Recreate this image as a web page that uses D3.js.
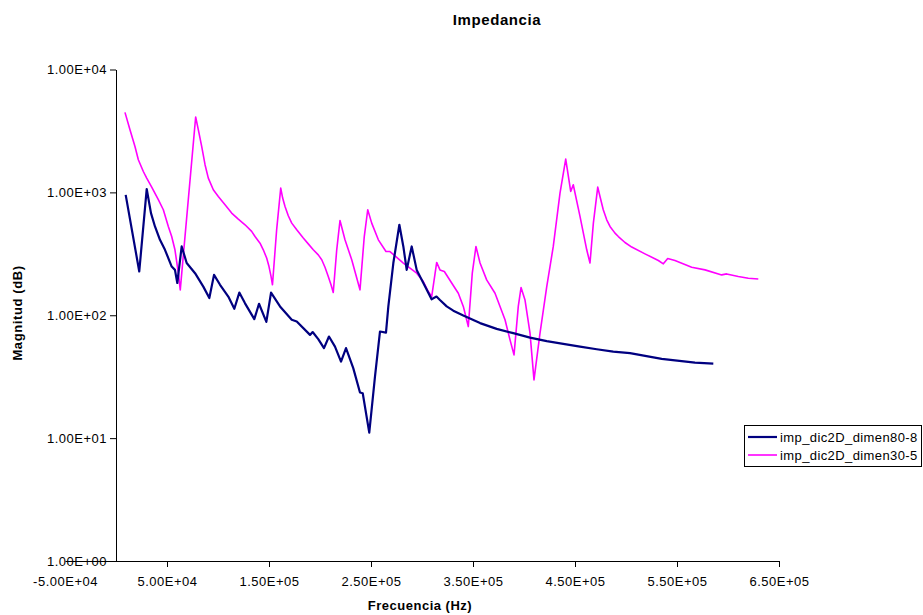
<!DOCTYPE html>
<html>
<head>
<meta charset="utf-8">
<script src="https://cdn.jsdelivr.net/npm/d3@7"></script>
<style>
  body { margin: 0; background: #fff; }
  svg { font-family: "Liberation Sans", Arial, sans-serif; }
</style>
</head>
<body>
<svg width="923" height="615"></svg>
<script>
// Data (frequency in Hz, magnitude)
var freq80 = [9500, 22800, 30100, 34300, 38200, 43100, 48000, 54600, 57800, 60100, 64400, 69300, 77500, 85600, 91500,
  96100, 102000, 110100, 116000, 120900, 126500, 135600, 140200, 147400, 152000, 160800, 172300,
  177200, 190200, 192800, 198300, 203900, 208800, 214700, 220600, 225500, 232600, 239200, 241900,
  248300, 253900, 258800, 264700, 267000, 271900, 277800, 281700, 285000, 289900, 294800, 301300,
  309400, 314200, 317600, 324200, 330700, 340500, 356900, 373200, 389500, 405900, 422300, 438500, 454900, 471300,
  487500, 503900, 535000, 567600, 585600];
var mag80 = [955, 227, 1064, 678, 528, 411, 341, 249, 234, 183, 363, 266, 220, 171, 138,
  213, 177, 142, 113, 153, 125, 93, 124, 88.3, 153, 118, 91.8,
  88.9, 69.2, 73, 63.9, 54.0, 67.1, 55.6, 42.0, 54.0, 37.1, 23.5, 23.2,
  11.1, 31.7, 73.7, 72.3, 118, 266, 545, 363, 234, 363, 234, 183,
  135, 142, 133, 118, 109, 99.5, 86.3, 77.5, 71.5, 65.8, 61.5, 58.5, 55.6, 52.9,
  50.6, 49.1, 44.2, 41.2, 40.4];

var freq30 = [8800, 13700, 18600, 21900, 26800, 30100, 35000, 41500, 46400, 51300, 54600, 57800, 61100, 63000,
  78100, 80700, 84000, 87300, 90500, 95400, 100300, 106900, 113400, 119900, 126500, 133000, 136300,
  141200, 144400, 147700, 150000, 152000, 153400, 157500, 161500, 163400, 165700, 168900, 172300,
  177200, 183600, 188500, 193400, 198300, 201700, 204900, 208100, 210800, 213000,
  216400, 219600, 224500, 231100, 239200, 243400, 246800, 250700, 257200,
  264700, 268600, 281700, 294800, 301300, 306200, 309500, 314400, 317600, 321900, 329100, 335600,
  340500, 345400, 349300, 352900, 356900, 363400, 371600, 381400, 386300, 390200, 394400, 397100,
  401000, 405900, 409800, 415700, 422300, 428700, 435300, 440900, 445800, 448300, 454900, 461500,
  464700, 468000, 472300, 474500, 477700, 481100, 484300, 489200, 492500, 499000, 505600, 518600,
  531700, 536600, 540900, 548000, 564400, 577500, 593800, 598700, 610100, 619900, 629700];
var mag30 = [4477, 3236, 2365, 1842, 1479, 1307, 1104, 871, 722, 528, 437, 341, 221, 161,
  4104, 3236, 2365, 1679, 1307, 1050, 926, 793, 678, 606, 545, 481, 437,
  386, 341, 292, 249, 207, 177, 496, 1084, 899, 767, 645, 562,
  496, 425, 381, 341, 310, 283, 246, 207, 177, 153,
  341, 590, 411, 283, 161, 437, 722, 562, 411,
  330, 330, 266, 220, 188, 156, 142, 269, 234, 227, 183, 151,
  118, 80.9, 220, 363, 266, 194, 151, 91.8, 63.0, 47.6, 118, 168,
  133, 71.5, 29.8, 71.5, 171, 363, 986, 1867, 1017, 1153, 637, 341,
  266, 562, 1104, 926, 722, 598, 528, 466, 437, 391, 359, 316,
  279, 262, 290, 279, 246, 234, 213, 217, 207, 200, 197];

var xTickValues = [-50000, 50000, 150000, 250000, 350000, 450000, 550000, 650000];
var xTickLabels = ['-5.00E+04', '5.00E+04', '1.50E+05', '2.50E+05', '3.50E+05', '4.50E+05', '5.50E+05', '6.50E+05'];
var yTickValues = [1, 10, 100, 1000, 10000];
var yTickLabels = ['1.00E+00', '1.00E+01', '1.00E+02', '1.00E+03', '1.00E+04'];

var seriesNames = ['imp_dic2D_dimen80-8', 'imp_dic2D_dimen30-5'];
var seriesColors = ['#000080', '#ff00ff'];
var seriesWidths = [2.2, 1.6];

var svg = d3.select('svg');

var x = d3.scaleLinear().domain([-50000, 650000]).range([65, 779]);
var y = d3.scaleLog().domain([1, 10000]).range([561, 69.5]);

// X axis (the y axis crosses it at 0)
var xAxis = svg.append('g')
    .attr('transform', 'translate(0,' + y(1) + ')')
    .call(d3.axisBottom(x)
        .tickValues(xTickValues)
        .tickSize(6)
        .tickSizeOuter(0)
        .tickFormat(function(d, i) { return xTickLabels[i]; }));

// Y axis
var yAxis = svg.append('g')
    .attr('transform', 'translate(' + x(0) + ',0)')
    .call(d3.axisLeft(y)
        .tickValues(yTickValues)
        .tickSize(6)
        .tickSizeOuter(0)
        .tickFormat(function(d, i) { return yTickLabels[i]; }));

[xAxis, yAxis].forEach(function(a) {
    a.select('.domain').attr('stroke', '#000').attr('stroke-width', 1);
    a.selectAll('.tick line').attr('stroke', '#000');
    a.selectAll('.tick text')
        .attr('fill', '#000')
        .style('font-size', '13px')
        .style('letter-spacing', '0.5px');
});
xAxis.selectAll('.tick text').attr('dy', '1.25em');
xAxis.select('.tick line').remove();

// Lines
var line = d3.line()
    .x(function(d) { return x(d[0]); })
    .y(function(d) { return y(d[1]); });

var series = [d3.zip(freq80, mag80), d3.zip(freq30, mag30)];

[1, 0].forEach(function(i) {
    svg.append('path')
        .datum(series[i])
        .attr('fill', 'none')
        .attr('stroke', seriesColors[i])
        .attr('stroke-width', seriesWidths[i])
        .attr('stroke-linejoin', 'round')
        .attr('d', line);
});

// Titles
svg.append('text')
    .attr('x', 497)
    .attr('y', 25)
    .attr('text-anchor', 'middle')
    .style('font-size', '15px')
    .style('font-weight', 'bold')
    .style('letter-spacing', '0.6px')
    .text('Impedancia');

svg.append('text')
    .attr('x', 420)
    .attr('y', 610)
    .attr('text-anchor', 'middle')
    .style('font-size', '13px')
    .style('font-weight', 'bold')
    .style('letter-spacing', '0.5px')
    .text('Frecuencia (Hz)');

svg.append('text')
    .attr('transform', 'translate(22,313) rotate(-90)')
    .attr('text-anchor', 'middle')
    .style('font-size', '13px')
    .style('font-weight', 'bold')
    .style('letter-spacing', '0.6px')
    .text('Magnitud (dB)');

// Legend
var legend = svg.append('g');
legend.append('rect')
    .attr('x', 744.5).attr('y', 425.5)
    .attr('width', 177).attr('height', 41)
    .attr('fill', '#fff')
    .attr('stroke', '#000');

seriesNames.forEach(function(name, i) {
    var ly = 437 + i * 18;
    legend.append('line')
        .attr('x1', 748).attr('x2', 777)
        .attr('y1', ly).attr('y2', ly)
        .attr('stroke', seriesColors[i])
        .attr('stroke-width', seriesWidths[i]);
    legend.append('text')
        .attr('x', 780)
        .attr('y', ly + 4.5)
        .style('font-size', '13px')
        .style('letter-spacing', '0.4px')
        .text(name);
});
</script>
</body>
</html>
